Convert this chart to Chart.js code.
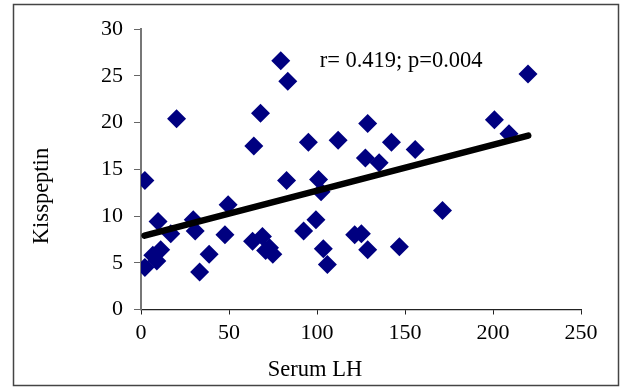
<!DOCTYPE html>
<html>
<head>
<meta charset="utf-8">
<script src="https://cdn.jsdelivr.net/npm/chart.js@4/dist/chart.umd.min.js"></script>
<style>
  body { margin: 0; background: #fff; }
  canvas { display: block; }
</style>
</head>
<body>
<canvas id="graph" width="621" height="387"></canvas>
<script>
// Serum LH (x) vs Kisspeptin (y)
const serumLH = [2.2, 2.2, 6.7, 9, 11.2, 9.7, 16.9, 20.2, 29.7, 30.8, 33.3, 38.7, 47.7, 49.5,
  64.1, 63.4, 67.9, 69, 70.8, 73, 74.9, 79.4, 83.4, 82.7, 92.4, 95.1, 99.4, 100.9, 102.3,
  103.6, 105.9, 112, 121.4, 125.2, 127.5, 128.8, 128.8, 135.3, 142.3, 146.8, 155.8, 171.3,
  200.8, 209.1, 219.9];
const kisspeptin = [13.8, 4.5, 5.8, 5.2, 6.4, 9.4, 8.1, 20.4, 9.6, 8.4, 4.0, 5.9, 8.0, 11.2,
  17.5, 7.3, 21.0, 7.8, 6.3, 6.6, 5.9, 26.6, 24.4, 13.8, 8.4, 17.9, 9.6, 13.9, 12.6,
  6.5, 4.8, 18.1, 8.0, 8.1, 16.2, 19.9, 6.4, 15.7, 17.9, 6.7, 17.1, 10.6,
  20.3, 18.8, 25.2];

// trend line end points
const trendX = [2, 220];
const trendY = [7.9, 18.6];

const xTicks = [0, 50, 100, 150, 200, 250];
const yTicks = [0, 5, 10, 15, 20, 25, 30];

const statsText = "r= 0.419; p=0.004";
const xTitle = "Serum LH";
const yTitle = "Kisspeptin";

const serif = "'Liberation Serif', 'Times New Roman', serif";

const points = serumLH.map((x, i) => ({x: x, y: kisspeptin[i]}));
const trend = trendX.map((x, i) => ({x: x, y: trendY[i]}));

// frame, axis titles and the r/p note
const extras = {
  id: 'extras',
  beforeDraw(chart) {
    const ctx = chart.ctx;
    ctx.save();
    ctx.fillStyle = '#fff';
    ctx.fillRect(0, 0, chart.width, chart.height);
    ctx.strokeStyle = '#444';
    ctx.lineWidth = 1.5;
    ctx.strokeRect(13.5, 4.5, 605, 381);
    ctx.restore();
  },
  afterDraw(chart) {
    const ctx = chart.ctx;
    const xs = chart.scales.x, ys = chart.scales.y;
    ctx.save();
    ctx.fillStyle = '#000';
    ctx.font = "22.5px " + serif;
    ctx.textBaseline = 'middle';
    ctx.textAlign = 'left';
    ctx.fillText(statsText, xs.getPixelForValue(101.5), ys.getPixelForValue(26.6));
    ctx.textAlign = 'center';
    ctx.fillText(xTitle, 315, 370);
    ctx.translate(42, 196);
    ctx.rotate(-Math.PI / 2);
    ctx.fillText(yTitle, 0, 0);
    ctx.restore();
  }
};

new Chart(document.getElementById("graph"), {
  type: 'scatter',
  data: {
    datasets: [
      {
        label: "Trend",
        data: trend,
        showLine: true,
        borderColor: "#000",
        borderWidth: 6.5,
        borderCapStyle: 'round',
        pointRadius: 0,
        order: 0
      },
      {
        label: "Kisspeptin",
        data: points,
        pointStyle: 'rectRot',
        pointRadius: 9.5,
        backgroundColor: "#000080",
        borderColor: "#000080",
        borderWidth: 0,
        order: 1
      }
    ]
  },
  options: {
    responsive: false,
    animation: false,
    layout: { padding: { top: 29, right: 40, left: 0, bottom: 0 } },
    plugins: { legend: { display: false }, tooltip: { enabled: false } },
    scales: {
      x: {
        min: 0, max: 250,
        afterBuildTicks: s => { s.ticks = xTicks.map(v => ({value: v})); },
        afterFit: s => { s.height = 77.5; },
        grid: { drawOnChartArea: false, tickLength: 5, tickColor: '#222' },
        border: { color: '#222', width: 1.2 },
        ticks: { color: '#000', padding: 6, maxRotation: 0, font: { family: serif, size: 22 } }
      },
      y: {
        min: 0, max: 30,
        afterBuildTicks: s => { s.ticks = yTicks.map(v => ({value: v})); },
        afterFit: s => { s.width = 141; },
        grid: { drawOnChartArea: false, tickLength: 7, tickColor: '#666' },
        border: { color: '#777', width: 2 },
        ticks: { color: '#000', padding: 11, font: { family: serif, size: 22 } }
      }
    }
  },
  plugins: [extras]
});
</script>
</body>
</html>
